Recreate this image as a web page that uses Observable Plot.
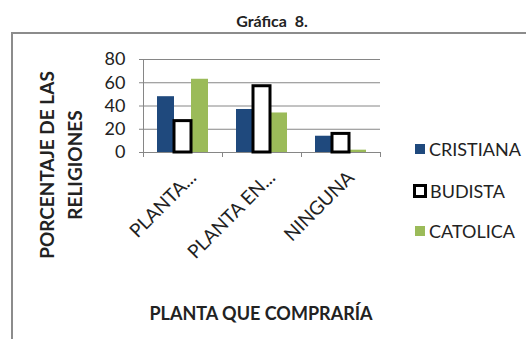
<!DOCTYPE html>
<html><head><meta charset="utf-8">
<script src="https://cdn.jsdelivr.net/npm/d3@7"></script>
<script src="https://cdn.jsdelivr.net/npm/@observablehq/plot@0.6"></script>
<style>
body{margin:0;background:#fff;}
#wrap{position:relative;width:526px;height:339px;overflow:hidden;font-family:Lato,Roboto,sans-serif;color:#222;}
#title{position:absolute;top:11px;left:0;width:544px;text-align:center;font-weight:bold;font-size:16px;line-height:20px;}
#frame{position:absolute;left:11px;top:32px;width:600px;height:400px;border:2px solid #8c8c8c;}
#chart{position:absolute;left:0;top:0;}
#ytitle{position:absolute;left:61px;top:165px;width:240px;transform:translate(-50%,-50%) rotate(-90deg);text-align:center;font-weight:bold;font-size:19px;line-height:28px;}
#xtitle{position:absolute;left:261px;top:313px;transform:translate(-50%,-50%);white-space:nowrap;font-weight:bold;font-size:18px;}
.lg{position:absolute;left:413px;height:20px;display:flex;align-items:center;font-size:18px;white-space:nowrap;}
.sw{width:10px;height:10px;margin:0 4px 0 2px;box-sizing:border-box;}
</style></head>
<body><div id="wrap">
<div id="frame"></div>
<div id="title">Gráfica&nbsp; 8.</div>
<div id="chart"></div>
<div id="ytitle">PORCENTAJE DE LAS<br>RELIGIONES</div>
<div id="xtitle">PLANTA QUE COMPRARÍA</div>
<div id="legend"></div>
</div>
<script>
const categories = ["PLANTA...", "PLANTA EN...", "NINGUNA"];
const religions = ["CRISTIANA", "BUDISTA", "CATOLICA"];
const cristiana = [48, 37, 14];
const budista = [27, 57, 16];
const catolica = [63, 34, 2];
const fills = ["#1F497D", "#FFFFFF", "#9BBB59"];
const yTicks = [0, 20, 40, 60, 80];

const series = [cristiana, budista, catolica];
const rows = [];
categories.forEach((c, i) => religions.forEach((r, j) => rows.push({category: c, religion: r, value: series[j][i]})));

const W = 526, H = 339, mL = 143, mR = 146, mT = 59, mB = 187;
const step = (W - mL - mR) / categories.length;
const font = 'Lato,Roboto,sans-serif';

const chart = Plot.plot({
  width: W, height: H, marginLeft: mL, marginRight: mR, marginTop: mT, marginBottom: mB,
  style: {fontFamily: font, background: "transparent", color: "#222", overflow: "visible"},
  fx: {domain: categories, padding: 0, label: null, axis: null},
  x: {domain: religions, paddingInner: 0, paddingOuter: 0.73, axis: null},
  y: {domain: [0, 80], axis: null},
  color: {domain: religions, range: fills},
  marks: [
    Plot.gridY(yTicks, {stroke: "#868686", strokeOpacity: 1}),
    Plot.barY(rows.filter(d => d.religion !== "BUDISTA"), {fx: "category", x: "religion", y: "value", fill: "religion"}),
    Plot.barY(rows.filter(d => d.religion === "BUDISTA"), {fx: "category", x: "religion", y: "value", fill: "white", stroke: "black", strokeWidth: 3}),
    Plot.frame({anchor: "left", facetAnchor: "left", stroke: "#868686"}),
    Plot.axisY(yTicks, {tickSize: 4, tickPadding: 14, fontSize: 18, stroke: "#868686", fill: "#222", label: null}),
    Plot.axisFx({anchor: "bottom", tickSize: 5, dx: -step / 2, text: null, stroke: "#868686", label: null}),
    Plot.axisFx({anchor: "bottom", tickSize: 5, dx: step / 2, text: null, stroke: "#868686", label: null}),
    Plot.axisFx({anchor: "bottom", tickSize: 0, tickRotate: -45, tickPadding: 22, dx: 10, fontSize: 19, fill: "#222", label: null})
  ]
});
document.getElementById("chart").appendChild(chart);

const legend = document.getElementById("legend");
const legendTops = [139, 181, 221];
religions.forEach((r, j) => {
  const item = document.createElement("div");
  item.className = "lg";
  item.style.top = legendTops[j] + "px";
  const sw = document.createElement("div");
  sw.className = "sw";
  if (r === "BUDISTA") { sw.style.background = "#fff"; sw.style.border = "3px solid #000"; sw.style.width = "14px"; sw.style.height = "14px"; sw.style.margin = "0 3px 0 0"; }
  else sw.style.background = fills[j];
  item.appendChild(sw);
  item.appendChild(document.createTextNode(r));
  legend.appendChild(item);
});
</script>
</body></html>
